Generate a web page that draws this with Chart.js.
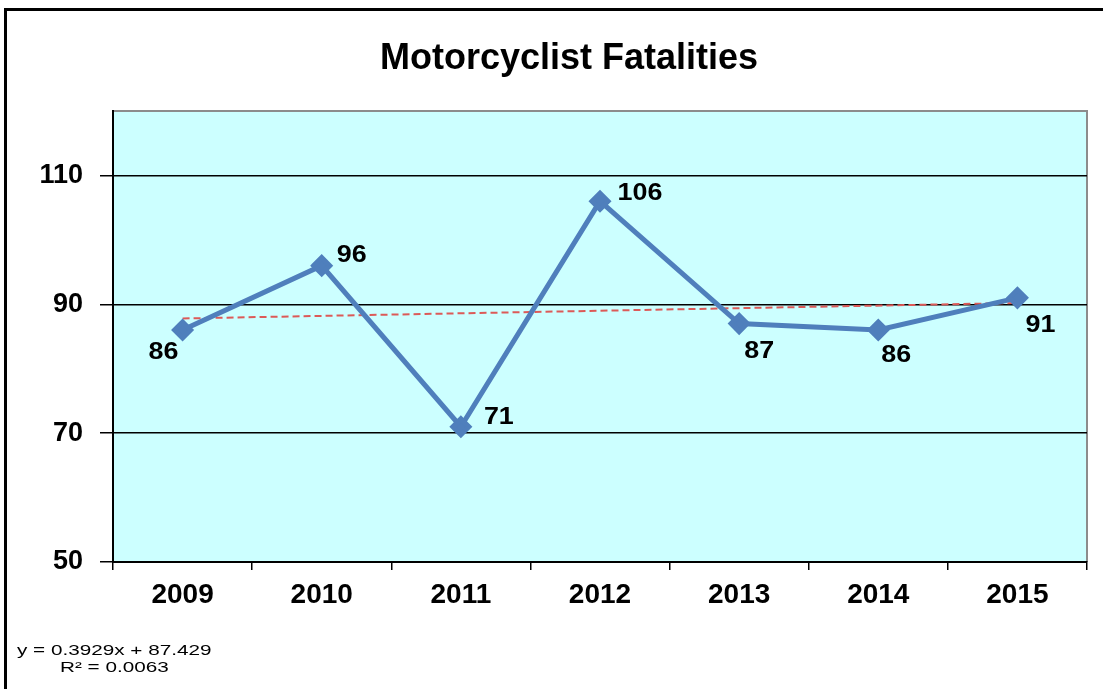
<!DOCTYPE html>
<html>
<head>
<meta charset="utf-8">
<script src="https://cdn.jsdelivr.net/npm/chart.js@4/dist/chart.umd.min.js"></script>
<style>
  html, body { margin: 0; padding: 0; background: #fff; }
  #wrap { width: 1103px; height: 689px; position: relative; }
</style>
</head>
<body>
<div id="wrap"><canvas id="chart"></canvas></div>
<script>
// data
const years = ['2009', '2010', '2011', '2012', '2013', '2014', '2015'];
const fatalities = [86, 96, 71, 106, 87, 86, 91];
const trend = [87.8, null, null, null, null, null, 90.2];
const yTicks = [50, 70, 90, 110];
const equationLines = ['y = 0.3929x + 87.429', 'R\u00b2 = 0.0063'];

// where each value label sits relative to its point
const labelOffsets = [[-19, 22], [30, -10], [38, -9], [40, -8], [20, 28], [18, 25], [23, 28]];

// draw text squeezed/stretched horizontally (source font is wide)
function wideText(ctx, text, x, y, sx) {
    ctx.save();
    ctx.translate(x, y);
    ctx.scale(sx, 1);
    ctx.fillText(text, 0, 0);
    ctx.restore();
}

const chartDecor = {
    id: 'chartDecor',
    beforeDraw(chart) {
        const ctx = chart.ctx;
        const a = chart.chartArea;
        ctx.save();
        ctx.fillStyle = '#ffffff';
        ctx.fillRect(0, 0, chart.width, chart.height);
        ctx.fillStyle = '#ccffff';
        ctx.fillRect(a.left, a.top, a.right - a.left, a.bottom - a.top);
        // grey frame on top and right
        ctx.strokeStyle = '#8c8c8c';
        ctx.lineWidth = 2;
        ctx.beginPath();
        ctx.moveTo(a.left, a.top);
        ctx.lineTo(a.right, a.top);
        ctx.lineTo(a.right, a.bottom);
        ctx.stroke();
        // outer border
        ctx.strokeStyle = '#000';
        ctx.lineWidth = 3;
        ctx.beginPath();
        ctx.moveTo(5.5, chart.height);
        ctx.lineTo(5.5, 9.5);
        ctx.lineTo(chart.width, 9.5);
        ctx.stroke();
        // title
        ctx.fillStyle = '#000';
        ctx.font = 'bold 36px "Liberation Sans", Arial, sans-serif';
        ctx.textAlign = 'center';
        ctx.textBaseline = 'middle';
        ctx.fillText('Motorcyclist Fatalities', 569, 59);
        ctx.restore();
    },
    afterDraw(chart) {
        const ctx = chart.ctx;
        ctx.save();
        // value labels
        const meta = chart.getDatasetMeta(0);
        ctx.fillStyle = '#000';
        ctx.font = 'bold 24px "Liberation Sans", Arial, sans-serif';
        ctx.textAlign = 'center';
        ctx.textBaseline = 'middle';
        meta.data.forEach((pt, i) => {
            const off = labelOffsets[i];
            wideText(ctx, String(fatalities[i]), pt.x + off[0], pt.y + off[1], 1.12);
        });
        // trendline equation
        ctx.font = '15px "Liberation Sans", Arial, sans-serif';
        ctx.fillStyle = '#000';
        ctx.textAlign = 'left';
        wideText(ctx, equationLines[0], 17, 651, 1.38);
        wideText(ctx, equationLines[1], 60, 668, 1.38);
        ctx.restore();
    }
};

new Chart(document.getElementById('chart'), {
    type: 'line',
    data: {
        labels: years,
        datasets: [{
            label: 'Fatalities',
            data: fatalities,
            borderColor: '#4f7fbc',
            backgroundColor: '#4f7fbc',
            borderWidth: 5,
            pointStyle: 'rectRot',
            pointRadius: 8,
            pointHoverRadius: 8,
            tension: 0,
            order: 1
        }, {
            label: 'Trend',
            data: trend,
            borderColor: '#dc5a58',
            borderWidth: 2,
            borderDash: [7, 4],
            pointRadius: 0,
            spanGaps: true,
            order: 2
        }]
    },
    options: {
        responsive: true,
        maintainAspectRatio: false,
        animation: false,
        layout: { padding: { top: 111, right: 16, bottom: 67, left: 0 } },
        plugins: {
            legend: { display: false },
            title: { display: false },
            tooltip: { enabled: false }
        },
        scales: {
            x: {
                offset: true,
                grid: {
                    offset: true,
                    drawOnChartArea: false,
                    drawTicks: true,
                    tickLength: 8,
                    color: '#000',
                    lineWidth: 1.5
                },
                border: { color: '#000', width: 2 },
                ticks: {
                    color: '#000',
                    padding: 8,
                    font: { family: '"Liberation Sans", Arial, sans-serif', size: 28, weight: 'bold' }
                },
                afterFit(scale) { scale.height = 60; }
            },
            y: {
                min: 50,
                max: 120,
                afterBuildTicks(scale) {
                    scale.ticks = yTicks.map(v => ({ value: v }));
                },
                grid: {
                    color: '#000',
                    lineWidth: 1.5,
                    tickLength: 13
                },
                border: { color: '#000', width: 2 },
                ticks: {
                    color: '#000',
                    padding: 17,
                    font: { family: '"Liberation Sans", Arial, sans-serif', size: 27, weight: 'bold' }
                },
                afterFit(scale) { scale.width = 113; }
            }
        }
    },
    plugins: [chartDecor]
});
</script>
</body>
</html>
